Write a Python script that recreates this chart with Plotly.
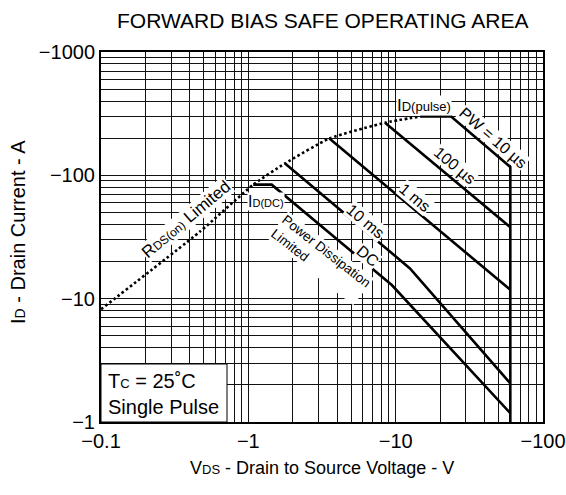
import plotly.graph_objects as go

# ---------------- data ----------------
# RDS(on) limited boundary (dotted)
rds_vds = [0.1, 0.47, 1.08, 1.775, 3.55, 8.47, 14.65]
rds_id = [8.2, 35, 84, 125, 199, 267, 300]

# PW = 10 us (includes ID(pulse) flat and BVDSS drop)
pw10us_vds = [14.65, 23.8, 60, 60]
pw10us_id = [300, 300, 117, 1]

pw100us_vds = [8.47, 60]
pw100us_id = [267, 37.9]

pw1ms_vds = [3.55, 60]
pw1ms_id = [199, 11.8]

pw10ms_vds = [1.775, 12.5, 60]
pw10ms_id = [125, 17.6, 2.06]

dc_vds = [1.08, 1.44, 9.41, 60]
dc_id = [84, 84, 12.9, 1.18]

x_tickvals = [0.1, 1, 10, 100]
x_ticktext = ["\u22120.1", "\u22121", "\u221210", "\u2212100"]
y_tickvals = [1, 10, 100, 1000]
y_ticktext = ["\u22121", "\u221210", "\u2212100", "\u22121000"]
minor_x = [m * d for d in (0.1, 1, 10) for m in range(2, 10)]
minor_y = [m * d for d in (1, 10, 100) for m in range(2, 10)]

FONT = "Liberation Sans, Arial, Helvetica, sans-serif"

# ---------------- figure ----------------
L, R, T, B = 101, 23, 52, 73
W, H = 566, 495
PW_, PH_ = W - L - R, H - T - B


def px(x):
    return (x - L) / PW_


def py(y):
    return (H - B - y) / PH_


fig = go.Figure()
line = dict(color="black", width=2.6)
fig.add_trace(go.Scatter(x=rds_vds, y=rds_id, mode="lines",
                         line=dict(color="black", width=2.6, dash="2.6px,2.6px", shape="spline", smoothing=0.5)))
for xs, ys in [(pw10us_vds, pw10us_id), (pw100us_vds, pw100us_id), (pw1ms_vds, pw1ms_id),
               (pw10ms_vds, pw10ms_id), (dc_vds, dc_id)]:
    fig.add_trace(go.Scatter(x=xs, y=ys, mode="lines", line=line))

axis_common = dict(
    type="log", showline=True, mirror=True, linecolor="black", linewidth=2,
    showgrid=True, gridcolor="#111", gridwidth=1, ticks="", zeroline=False, automargin=False,
    tickfont=dict(family=FONT, size=20, color="black"), tickmode="array",
)
fig.update_xaxes(range=[-1, 2], tickvals=x_tickvals, ticktext=x_ticktext,
                 minor=dict(tickmode="array", tickvals=minor_x, showgrid=True, gridcolor="#111", gridwidth=1, ticks=""),
                 **axis_common)
fig.update_yaxes(range=[0, 3], tickvals=y_tickvals, ticktext=y_ticktext,
                 minor=dict(tickmode="array", tickvals=minor_y, showgrid=True, gridcolor="#111", gridwidth=1, ticks=""),
                 **axis_common)


def sm(t, s):
    return "<span style='font-size:%spx'>%s</span>" % (s, t)


anns = [
    ("I" + sm("D(pulse)", 13), 424, 105, 0, 17, "center"),
    ("PW = 10 µs", 493, 137, 41, 16, "center"),
    ("100 µs", 455, 165, 40, 16, "center"),
    ("1 ms", 415, 197, 40, 16, "center"),
    ("10 ms", 366, 221, 40, 16, "center"),
    ("DC", 367, 256, 40, 16, "center"),
    ("Power Dissipation<br>Limited", 321, 258, 38, 13.5, "left"),
    ("I" + sm("D(DC)", 11), 266, 201, 0, 16, "center"),
    ("R" + sm("DS(on)", 12) + " Limited", 186, 219, -40, 17, "center"),
]
for text, x, y, ang, size, al in anns:
    fig.add_annotation(x=px(x), y=py(y), xref="paper", yref="paper", text=text, showarrow=False,
                       xanchor="center", yanchor="middle",
                       textangle=ang, align=al, bgcolor="white", borderpad=0,
                       font=dict(family=FONT, size=size, color="black"))

# conditions box
fig.add_shape(type="rect", xref="paper", yref="paper", x0=0, x1=px(227), y0=0, y1=py(364),
              fillcolor="white", line=dict(color="black", width=1), layer="above")
fig.add_annotation(x=px(106), y=py(394), xref="paper", yref="paper", xanchor="left", yanchor="middle",
                   text="T" + sm("C", 13) + " = 25˚C<br>Single Pulse", align="left",
                   showarrow=False, font=dict(family=FONT, size=20, color="black"))

# axis titles
fig.add_annotation(x=px(322), y=py(468), xref="paper", yref="paper", showarrow=False,
                   xanchor="center", yanchor="middle",
                   text="V" + sm("DS", 13) + " - Drain to Source Voltage - V",
                   font=dict(family=FONT, size=18, color="black"))
fig.add_annotation(x=px(18), y=py(232), xref="paper", yref="paper", showarrow=False, textangle=-90,
                   xanchor="center", yanchor="middle",
                   text="I" + sm("D", 14) + " - Drain Current - A",
                   font=dict(family=FONT, size=20, color="black"))
fig.add_annotation(x=px(323), y=py(21), xref="paper", yref="paper", showarrow=False,
                   xanchor="center", yanchor="middle",
                   text="FORWARD BIAS SAFE OPERATING AREA",
                   font=dict(family=FONT, size=21, color="black"))

fig.update_layout(template="none", width=W, height=H, margin=dict(l=L, r=R, t=T, b=B, pad=0),
                  paper_bgcolor="white", plot_bgcolor="white", showlegend=False)
fig.write_html("out.html", config={"displayModeBar": False},
               post_script="document.body.style.margin='0';")
